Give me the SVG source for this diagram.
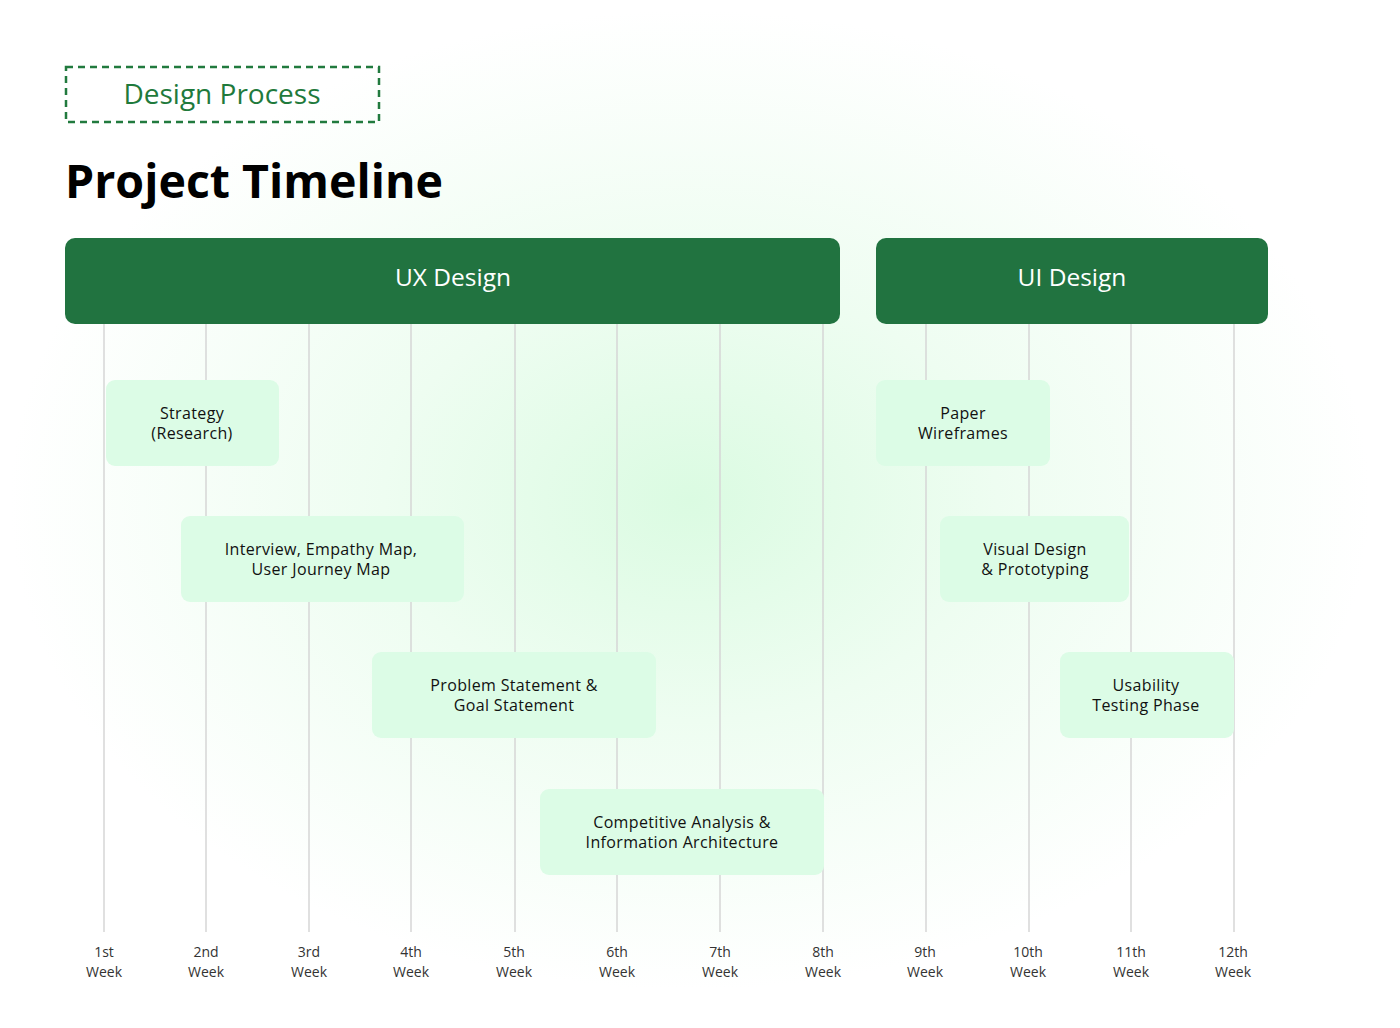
<svg xmlns="http://www.w3.org/2000/svg" width="1400" height="1028" viewBox="0 0 1400 1028">
<defs>
<radialGradient id="glow" cx="690" cy="500" r="680" gradientUnits="userSpaceOnUse" gradientTransform="translate(690 500) scale(1 0.72) translate(-690 -500)">
<stop offset="0" stop-color="#dbfbe2"/>
<stop offset="0.45" stop-color="#eefdf1"/>
<stop offset="1" stop-color="#ffffff"/>
</radialGradient>
<style>
.t{font-family:"Open Sans","Noto Sans","Liberation Sans",sans-serif;}
.bar{fill:#217340;}
.bar-t{fill:#ffffff;font-size:24.5px;text-anchor:middle;}
.node rect{fill:#dcfce6;}
.node text{fill:#111;font-size:16px;letter-spacing:0.35px;text-anchor:middle;}
.grid line{stroke:#d6d6d6;stroke-width:1.5;}
.wk{fill:#333;font-size:14px;text-anchor:middle;}
</style>
</defs>
<rect width="1400" height="1028" fill="#ffffff"/>
<rect width="1400" height="1028" fill="url(#glow)"/>
<g id="header">
<rect x="66" y="67" width="313" height="55" fill="none" stroke="#217a3e" stroke-width="2.5" stroke-dasharray="7 5"/>
<text class="t" x="222" y="104" font-size="28" fill="#1f7a3c" text-anchor="middle">Design Process</text>
<text class="t" x="65" y="198" font-size="47" font-weight="bold" fill="#000" textLength="378" lengthAdjust="spacingAndGlyphs">Project Timeline</text>
</g>
<g id="connectors" class="grid">
<line x1="104" y1="324" x2="104" y2="932"/>
<line x1="206" y1="324" x2="206" y2="932"/>
<line x1="309" y1="324" x2="309" y2="932"/>
<line x1="411" y1="324" x2="411" y2="932"/>
<line x1="515" y1="324" x2="515" y2="932"/>
<line x1="617" y1="324" x2="617" y2="932"/>
<line x1="720" y1="324" x2="720" y2="932"/>
<line x1="823" y1="324" x2="823" y2="932"/>
<line x1="926" y1="324" x2="926" y2="932"/>
<line x1="1029" y1="324" x2="1029" y2="932"/>
<line x1="1131" y1="324" x2="1131" y2="932"/>
<line x1="1234" y1="324" x2="1234" y2="932"/>
</g>
<g id="ux-design">
<rect class="bar" x="65" y="238" width="775" height="86" rx="10"/>
<text class="t bar-t" x="453" y="286">UX Design</text>
</g>
<g id="ui-design">
<rect class="bar" x="876" y="238" width="392" height="86" rx="10"/>
<text class="t bar-t" x="1072" y="286">UI Design</text>
</g>
<g id="strategy" class="node">
<rect x="106" y="380" width="173" height="86" rx="9"/>
<text class="t" x="192" y="419">Strategy</text>
<text class="t" x="192" y="439">(Research)</text>
</g>
<g id="interview" class="node">
<rect x="181" y="516" width="283" height="86" rx="9"/>
<text class="t" x="321" y="555">Interview, Empathy Map,</text>
<text class="t" x="321" y="575">User Journey Map</text>
</g>
<g id="problem" class="node">
<rect x="372" y="652" width="284" height="86" rx="9"/>
<text class="t" x="514" y="691">Problem Statement &amp;</text>
<text class="t" x="514" y="711">Goal Statement</text>
</g>
<g id="competitive" class="node">
<rect x="540" y="789" width="284" height="86" rx="9"/>
<text class="t" x="682" y="828">Competitive Analysis &amp;</text>
<text class="t" x="682" y="848">Information Architecture</text>
</g>
<g id="paper" class="node">
<rect x="876" y="380" width="174" height="86" rx="9"/>
<text class="t" x="963" y="419">Paper</text>
<text class="t" x="963" y="439">Wireframes</text>
</g>
<g id="visual" class="node">
<rect x="940" y="516" width="189" height="86" rx="9"/>
<text class="t" x="1035" y="555">Visual Design</text>
<text class="t" x="1035" y="575">&amp; Prototyping</text>
</g>
<g id="usability" class="node">
<rect x="1060" y="652" width="174" height="86" rx="9"/>
<text class="t" x="1146" y="691">Usability</text>
<text class="t" x="1146" y="711">Testing Phase</text>
</g>
<g id="weeks">
<text class="t wk" x="104" y="957">1st</text><text class="t wk" x="104" y="977">Week</text>
<text class="t wk" x="206" y="957">2nd</text><text class="t wk" x="206" y="977">Week</text>
<text class="t wk" x="309" y="957">3rd</text><text class="t wk" x="309" y="977">Week</text>
<text class="t wk" x="411" y="957">4th</text><text class="t wk" x="411" y="977">Week</text>
<text class="t wk" x="514" y="957">5th</text><text class="t wk" x="514" y="977">Week</text>
<text class="t wk" x="617" y="957">6th</text><text class="t wk" x="617" y="977">Week</text>
<text class="t wk" x="720" y="957">7th</text><text class="t wk" x="720" y="977">Week</text>
<text class="t wk" x="823" y="957">8th</text><text class="t wk" x="823" y="977">Week</text>
<text class="t wk" x="925" y="957">9th</text><text class="t wk" x="925" y="977">Week</text>
<text class="t wk" x="1028" y="957">10th</text><text class="t wk" x="1028" y="977">Week</text>
<text class="t wk" x="1131" y="957">11th</text><text class="t wk" x="1131" y="977">Week</text>
<text class="t wk" x="1233" y="957">12th</text><text class="t wk" x="1233" y="977">Week</text>
</g>
</svg>
